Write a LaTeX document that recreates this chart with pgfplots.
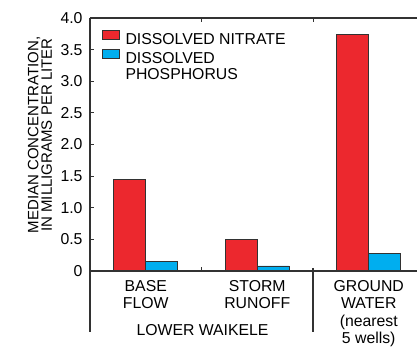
\documentclass[border=0pt]{standalone}
\usepackage{fontspec}
\setmainfont{Liberation Sans}
\usepackage{pgfplots}
\pgfplotsset{compat=1.18}
\definecolor{nred}{RGB}{236,40,46}
\definecolor{pblue}{RGB}{0,174,239}
\definecolor{axgray}{RGB}{50,50,50}
\newcommand{\tf}{\fontsize{15.8}{16.5}\selectfont}
\begin{document}
\tf
\begin{tikzpicture}
\useasboundingbox (-90pt,-77pt) rectangle (327pt,271pt);
\begin{axis}[
  at={(0pt,0pt)}, anchor=south west,
  x=111.5pt, y=63.25pt,
  xmin=-0.5, xmax=2.435, ymin=0, ymax=4,
  clip=false,
  axis line style={draw=none},
  /pgf/number format/assume math mode=true,
  ytick={0,0.5,1,1.5,2,2.5,3,3.5,4},
  yticklabels={0,0.5,1.0,1.5,2.0,2.5,3.0,3.5,4.0},
  ytick pos=left,
  tick align=inside,
  major tick length=4pt,
  ytick style={axgray, line width=1pt},
  yticklabel style={font=\tf, anchor=east, xshift=-2pt},
  xtick={0,1,2},
  xticklabels={{BASE\\FLOW},{STORM\\RUNOFF},{GROUND\\[0.8pt]WATER\\[1pt](nearest\\[0.5pt]5 wells)}},
  xtick style={draw=none},
  xticklabel style={font=\tf, align=center, anchor=north},
  ybar=0pt, bar width=32pt,
  legend image code/.code={\draw[#1] (0pt,0.9pt) rectangle (17pt,9.9pt); \path (20.5pt,5pt);},
  legend style={at={(axis cs:-0.5,4)}, anchor=north west, xshift=12pt, yshift=-12pt,
    draw=none, fill=none, inner sep=0pt, font=\fontsize{15.8}{16}\selectfont,
    cells={anchor=west}, row sep=0pt},
  legend cell align=left,
]
\addplot[fill=nred, draw=axgray, line width=0.8pt]
  coordinates {(0,1.45) (1,0.50) (2,3.74)};
\addlegendentry{DISSOLVED NITRATE}
\addplot[fill=pblue, draw=axgray, line width=0.8pt]
  coordinates {(0,0.15) (1,0.08) (2,0.28)};
\addlegendentry{\vtop{\hbox{DISSOLVED}\hbox{PHOSPHORUS}}}
% frame lines
\draw[axgray, line width=1.2pt] (axis cs:-0.5,4) -- (axis cs:2.435,4);
\draw[axgray, line width=1.2pt] (axis cs:-0.5,0) -- (axis cs:2.435,0);
\draw[axgray, line width=1.2pt] (axis cs:-0.5,4) -- (axis cs:-0.5,-0.965);
\draw[axgray, line width=1.2pt] (axis cs:1.5,0.05) -- (axis cs:1.5,-0.965);
\draw[axgray, line width=1pt] (axis cs:0.5,0) -- (axis cs:0.5,0.065);
\draw[axgray, line width=1pt] (axis cs:0.5,4) -- (axis cs:0.5,3.935);
\draw[axgray, line width=1pt] (axis cs:1.5,4) -- (axis cs:1.5,3.935);
\end{axis}
\node[rotate=90, align=center, font=\fontsize{15}{13.5}\selectfont] at (-50pt,136pt)
  {MEDIAN CONCENTRATION,\\IN MILLIGRAMS PER LITER};
\node[font=\tf] at (112.5pt,-59pt) {LOWER WAIKELE};
\end{tikzpicture}
\end{document}
